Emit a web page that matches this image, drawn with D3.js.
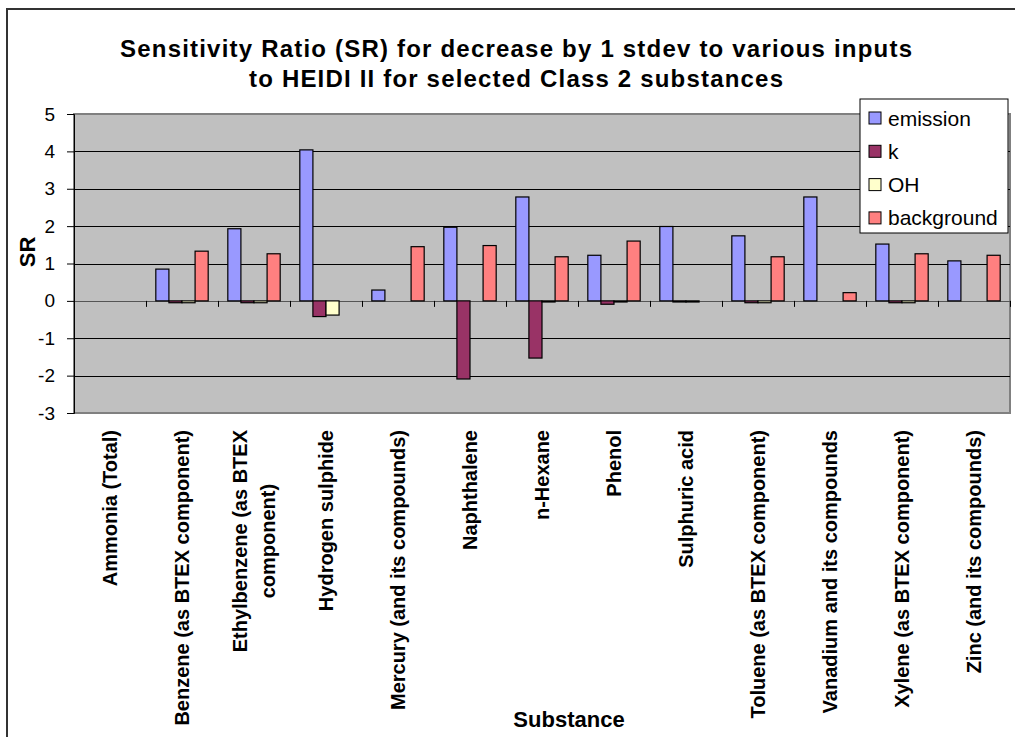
<!DOCTYPE html>
<html>
<head>
<meta charset="utf-8">
<script src="https://cdn.jsdelivr.net/npm/d3@7"></script>
<style>
  body { margin: 0; background: #fff; }
  text { font-family: "Liberation Sans", Arial, sans-serif; fill: #000; }
</style>
</head>
<body>
<script>
// substances (one entry per line of the label)
var categories = [
  ["Ammonia (Total)"],
  ["Benzene (as BTEX component)"],
  ["Ethylbenzene (as BTEX", "component)"],
  ["Hydrogen sulphide"],
  ["Mercury (and its compounds)"],
  ["Naphthalene"],
  ["n-Hexane"],
  ["Phenol"],
  ["Sulphuric acid"],
  ["Toluene (as BTEX component)"],
  ["Vanadium and its compounds"],
  ["Xylene (as BTEX component)"],
  ["Zinc (and its compounds)"]
];
var seriesNames = ["emission", "k", "OH", "background"];
var emission   = [0, 0.85, 1.93, 4.04, 0.29, 1.97, 2.78, 1.22, 1.99, 1.74, 2.78, 1.52, 1.07];
var k          = [0, -0.05, -0.05, -0.42, 0, -2.09, -1.53, -0.09, -0.03, -0.05, 0, -0.05, 0];
var oh         = [0, -0.05, -0.05, -0.38, 0, 0, -0.03, -0.03, -0.03, -0.05, 0, -0.05, 0];
var background = [0, 1.33, 1.26, 0, 1.45, 1.48, 1.18, 1.60, 0, 1.18, 0.22, 1.26, 1.22];
var colors = ["#9999FF", "#993366", "#FFFFCC", "#FF8080"];
var yTicks = [-3, -2, -1, 0, 1, 2, 3, 4, 5];

var W = 1015, H = 737;
var plot = {left: 74, right: 1010, top: 114, bottom: 413};

var svg = d3.select("body").append("svg")
    .attr("width", W)
    .attr("height", H);

// outer chart frame
svg.append("rect")
    .attr("x", 7).attr("y", 9)
    .attr("width", W + 20).attr("height", H + 20)
    .attr("fill", "#fff")
    .attr("stroke", "#333")
    .attr("stroke-width", 2);

var x = d3.scaleBand()
    .domain(categories.map(function(d, i) { return i; }))
    .range([plot.left, plot.right]);

var xs = d3.scaleBand()
    .domain(seriesNames)
    .range([0, x.bandwidth()])
    .paddingOuter(0.75);

var y = d3.scaleLinear()
    .domain([-3, 5])
    .range([plot.bottom, plot.top]);

// plot area
svg.append("rect")
    .attr("x", plot.left).attr("y", plot.top)
    .attr("width", plot.right - plot.left)
    .attr("height", plot.bottom - plot.top)
    .attr("fill", "#C0C0C0")
    .attr("stroke", "#808080")
    .attr("stroke-width", 2);

// gridlines
svg.append("g")
  .selectAll("line")
    .data(yTicks.filter(function(d) { return d > -3 && d < 5 && d != 0; }))
  .enter().append("line")
    .attr("x1", plot.left).attr("x2", plot.right)
    .attr("y1", function(d) { return Math.round(y(d)) + 0.5; })
    .attr("y2", function(d) { return Math.round(y(d)) + 0.5; })
    .attr("stroke", "#000")
    .attr("stroke-width", 1);

// category axis at zero
svg.append("line")
    .attr("x1", plot.left).attr("x2", plot.right)
    .attr("y1", Math.round(y(0)) + 0.5).attr("y2", Math.round(y(0)) + 0.5)
    .attr("stroke", "#555");

svg.append("g")
  .selectAll("line")
    .data(d3.range(categories.length + 1))
  .enter().append("line")
    .attr("x1", function(i) { return Math.round(plot.left + i * x.step()) + 0.5; })
    .attr("x2", function(i) { return Math.round(plot.left + i * x.step()) + 0.5; })
    .attr("y1", y(0))
    .attr("y2", y(0) + 6)
    .attr("stroke", "#000");

// y axis
var yAxis = svg.append("g")
    .attr("transform", "translate(" + plot.left + ",0)")
    .call(d3.axisLeft(y).tickValues(yTicks).tickSize(7).tickPadding(12)
      .tickFormat(function(d) { return String(d); }));
yAxis.select(".domain").attr("stroke", "#000");
yAxis.selectAll(".tick line").attr("stroke", "#000");
yAxis.selectAll("text")
    .style("font-size", "19px")
    .style("font-family", "'Liberation Sans', Arial, sans-serif")
    .attr("fill", "#000");

// bars
var rows = categories.map(function(c, i) {
  return [emission[i], k[i], oh[i], background[i]];
});

svg.append("g")
  .selectAll("g")
    .data(rows)
  .enter().append("g")
    .attr("transform", function(d, i) { return "translate(" + x(i) + ",0)"; })
  .selectAll("rect")
    .data(function(d) {
      return d.map(function(v, j) { return {name: seriesNames[j], value: v, c: colors[j]}; })
        .filter(function(e) { return e.value !== 0; });
    })
  .enter().append("rect")
    .attr("x", function(d) { return xs(d.name); })
    .attr("y", function(d) { return Math.min(y(d.value), y(0)); })
    .attr("width", xs.bandwidth())
    .attr("height", function(d) { return Math.max(Math.abs(y(d.value) - y(0)), 1); })
    .attr("fill", function(d) { return d.c; })
    .attr("stroke", "#000")
    .attr("stroke-width", 1.2);

// category labels, rotated
var labelTop = 430;
var lbl = svg.append("g")
  .selectAll("text")
    .data(categories)
  .enter().append("text")
    .style("font-size", "20px")
    .style("font-weight", "bold")
    .attr("text-anchor", "middle");

lbl.each(function(lines, i) {
  var t = d3.select(this);
  var n = lines.length;
  lines.forEach(function(s, j) {
    t.append("tspan")
        .attr("x", 0)
        .attr("dy", j == 0 ? (0.35 - (n - 1) * 0.7) + "em" : "1.4em")
        .text(s);
  });
  var len = d3.max(t.selectAll("tspan").nodes(), function(n) { return n.getComputedTextLength(); });
  t.attr("transform", "translate(" + (x(i) + x.bandwidth() / 2) + "," + (labelTop + len / 2) + ")rotate(-90)");
});

// axis titles
svg.append("text")
    .attr("transform", "translate(35,252)rotate(-90)")
    .attr("text-anchor", "middle")
    .style("font-size", "22px")
    .style("font-weight", "bold")
    .text("SR");

svg.append("text")
    .attr("x", 569).attr("y", 727)
    .attr("text-anchor", "middle")
    .style("font-size", "22px")
    .style("font-weight", "bold")
    .text("Substance");

// title
var titleLines = [
  {text: "Sensitivity Ratio (SR) for decrease by 1 stdev to various inputs", y: 57, w: 792},
  {text: "to HEIDI II for selected Class 2 substances", y: 87, w: 534}
];
svg.append("g")
  .selectAll("text")
    .data(titleLines)
  .enter().append("text")
    .attr("x", function(d) { return 516 - d.w / 2; })
    .attr("y", function(d) { return d.y; })
    .attr("textLength", function(d) { return d.w; })
    .attr("lengthAdjust", "spacing")
    .style("font-size", "24px")
    .style("font-weight", "bold")
    .text(function(d) { return d.text; });

// legend
var legend = svg.append("g").attr("transform", "translate(860,99)");
legend.append("rect")
    .attr("width", 148).attr("height", 134)
    .attr("fill", "#fff")
    .attr("stroke", "#000");
var item = legend.selectAll("g")
    .data(seriesNames)
  .enter().append("g")
    .attr("transform", function(d, i) { return "translate(0," + (19 + i * 33.3) + ")"; });
item.append("rect")
    .attr("x", 9).attr("y", -6)
    .attr("width", 12).attr("height", 12)
    .attr("fill", function(d, i) { return colors[i]; })
    .attr("stroke", "#000");
item.append("text")
    .attr("x", 28).attr("dy", "0.36em")
    .style("font-size", "21px")
    .text(function(d) { return d; });
</script>
</body>
</html>
